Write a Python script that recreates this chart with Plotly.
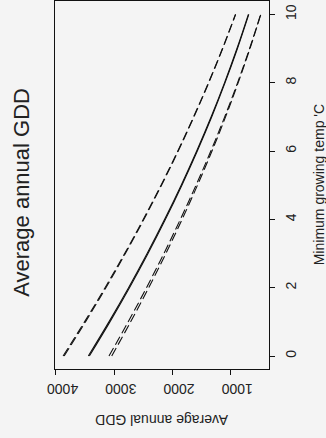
import plotly.graph_objects as go

# Minimum growing temperature (base temperature, deg C)
temp = [0, 1, 2, 3, 4, 5, 6, 7, 8, 9, 10]

# Average annual growing degree days for each base temperature
gdd_mean_a = [3445, 3091, 2754, 2435, 2134, 1850, 1584, 1335, 1105, 892, 696]
gdd_mean_b = [3427, 3074, 2738, 2420, 2120, 1838, 1573, 1325, 1096, 884, 689]
gdd_upper_a = [3860, 3494, 3143, 2809, 2490, 2188, 1901, 1631, 1376, 1137, 915]
gdd_upper_b = [3878, 3510, 3157, 2821, 2500, 2196, 1908, 1637, 1381, 1141, 918]
gdd_lower_a = [3043, 2718, 2408, 2113, 1834, 1570, 1321, 1088, 871, 669, 482]
gdd_lower_b = [3090, 2760, 2446, 2147, 1864, 1595, 1341, 1103, 881, 675, 485]

gdd_ticks = [1000, 2000, 3000, 4000]
temp_ticks = [0, 2, 4, 6, 8, 10]

BG = "#f4f4f4"
INK = "#111111"
TXT = "#222222"
FONT = "Liberation Sans, Arial, sans-serif"
DASH = "9px,4px"

series = [
    (gdd_upper_a, "dash"),
    (gdd_upper_b, "dash"),
    (gdd_lower_a, "dash"),
    (gdd_lower_b, "dash"),
    (gdd_mean_a, "solid"),
    (gdd_mean_b, "solid"),
]

fig = go.Figure()
for values, style in series:
    fig.add_trace(go.Scatter(
        x=values, y=temp, mode="lines",
        line=dict(color=INK, width=1.1, shape="spline",
                  dash=DASH if style == "dash" else "solid"),
        showlegend=False, hoverinfo="skip",
    ))

axis_common = dict(
    showgrid=False, zeroline=False,
    showline=True, linecolor=INK, linewidth=1.2, mirror=True,
    ticks="outside", ticklen=5, tickwidth=1, tickcolor=INK,
    tickfont=dict(family=FONT, size=14, color=TXT),
)

fig.update_layout(
    width=326, height=438,
    margin=dict(l=55, r=57, t=1, b=69),
    paper_bgcolor=BG, plot_bgcolor=BG,
    font=dict(family=FONT, color=TXT),
    xaxis=dict(range=[4017, 342], tickvals=gdd_ticks,
               ticktext=[str(v) for v in gdd_ticks], tickangle=180,
               ticklabelstandoff=6, ticklabelshift=9,
               **axis_common),
    yaxis=dict(range=[-0.38, 10.39], side="right", tickvals=temp_ticks,
               ticktext=[str(v) for v in temp_ticks], tickangle=-90,
               ticklabelstandoff=4,
               **axis_common),
)

# Rotated titles
fig.add_annotation(text="Average annual GDD", textangle=-90,
                   xref="paper", yref="paper", x=-0.157, y=0.48,
                   xanchor="center", yanchor="middle", showarrow=False,
                   font=dict(family=FONT, size=22, color=TXT))
fig.add_annotation(text="Average annual GDD", textangle=180,
                   xref="paper", yref="paper", x=0.5, y=-0.14,
                   xanchor="center", yanchor="middle", showarrow=False,
                   font=dict(family=FONT, size=14, color=TXT))
fig.add_annotation(text="Minimum growing temp 'C", textangle=-90,
                   xref="paper", yref="paper", x=1.235, y=0.5,
                   xanchor="center", yanchor="middle", showarrow=False,
                   font=dict(family=FONT, size=14, color=TXT))

fig.write_html("out.html")
